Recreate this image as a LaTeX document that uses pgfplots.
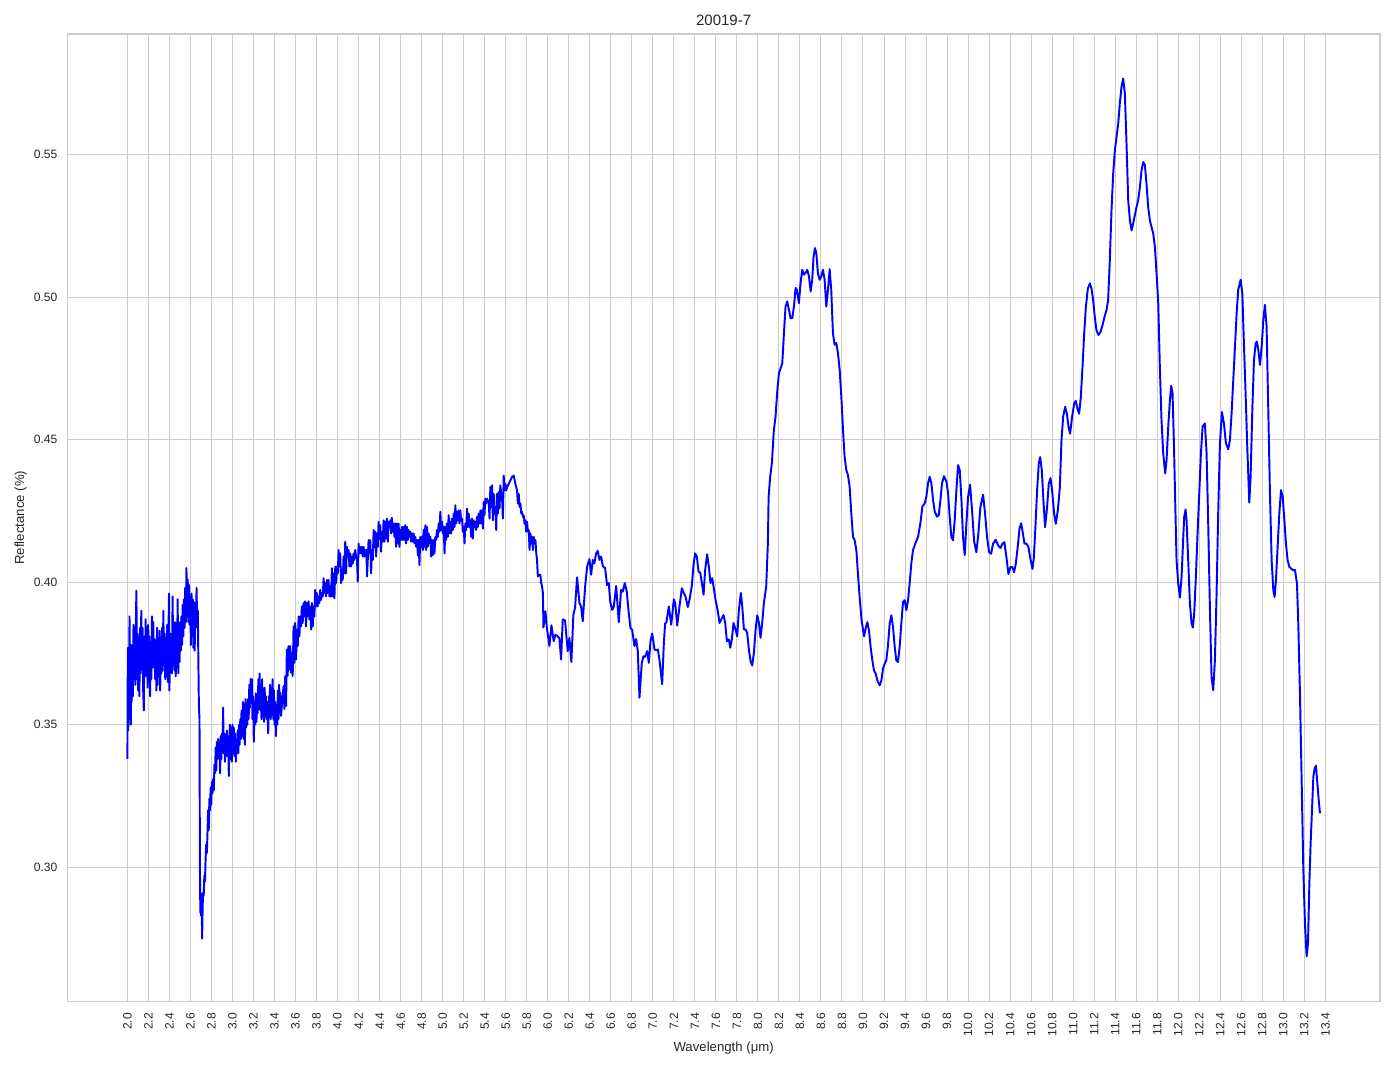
\documentclass[border=0pt]{standalone}
\usepackage{pgfplots}
\pgfplotsset{compat=1.18}
\usepackage{pgfplotstable}
\usepackage{fontspec}
\setmainfont{Liberation Sans}

\definecolor{gridc}{gray}{0.8}
\definecolor{txt}{gray}{0.15}

% spectrum 20019-7
\pgfplotstableread{
x y
2.000 0.338
2.004 0.377
2.008 0.348
2.012 0.372
2.016 0.352
2.020 0.388
2.024 0.356
2.028 0.375
2.032 0.350
2.036 0.378
2.040 0.358
2.046 0.372
2.052 0.360
2.058 0.385
2.064 0.366
2.070 0.380
2.076 0.364
2.082 0.390
2.086 0.397
2.090 0.366
2.096 0.382
2.102 0.362
2.108 0.378
2.114 0.360
2.120 0.384
2.126 0.368
2.132 0.390
2.138 0.370
2.144 0.384
2.150 0.362
2.156 0.355
2.162 0.381
2.168 0.367
2.174 0.387
2.180 0.368
2.186 0.382
2.192 0.363
2.198 0.385
2.204 0.365
2.210 0.381
2.216 0.360
2.222 0.379
2.228 0.366
2.234 0.388
2.240 0.370
2.246 0.386
2.252 0.372
2.258 0.380
2.264 0.366
2.270 0.378
2.276 0.362
2.282 0.384
2.288 0.364
2.294 0.380
2.300 0.367
2.306 0.383
2.312 0.362
2.318 0.378
2.324 0.368
2.330 0.384
2.336 0.369
2.342 0.390
2.348 0.371
2.354 0.382
2.360 0.366
2.366 0.380
2.372 0.368
2.378 0.385
2.384 0.365
2.390 0.380
2.396 0.396
2.400 0.362
2.406 0.382
2.412 0.372
2.418 0.380
2.424 0.368
2.430 0.395
2.436 0.372
2.442 0.382
2.448 0.369
2.454 0.386
2.460 0.367
2.466 0.384
2.472 0.370
2.478 0.394
2.484 0.368
2.490 0.382
2.496 0.372
2.502 0.386
2.508 0.376
2.514 0.388
2.520 0.378
2.526 0.392
2.532 0.381
2.538 0.394
2.544 0.384
2.550 0.398
2.556 0.386
2.562 0.405
2.568 0.388
2.574 0.401
2.580 0.386
2.586 0.399
2.592 0.385
2.598 0.395
2.604 0.378
2.610 0.396
2.616 0.381
2.622 0.394
2.628 0.377
2.634 0.393
2.640 0.376
2.646 0.389
2.652 0.384
2.658 0.398
2.664 0.385
2.670 0.390
2.676 0.370
2.680 0.357
2.686 0.352
2.690 0.300
2.694 0.284
2.698 0.291
2.702 0.283
2.706 0.290
2.711 0.275
2.716 0.286
2.720 0.291
2.726 0.290
2.732 0.297
2.738 0.295
2.744 0.303
2.750 0.308
2.756 0.305
2.762 0.312
2.768 0.320
2.774 0.313
2.780 0.324
2.786 0.320
2.792 0.328
2.798 0.322
2.804 0.330
2.810 0.326
2.816 0.331
2.822 0.327
2.828 0.336
2.834 0.333
2.840 0.342
2.846 0.334
2.852 0.344
2.858 0.338
2.864 0.345
2.870 0.341
2.876 0.344
2.882 0.333
2.888 0.346
2.894 0.338
2.900 0.347
2.906 0.341
2.911 0.356
2.916 0.340
2.922 0.347
2.928 0.337
2.934 0.345
2.940 0.339
2.946 0.348
2.952 0.341
2.958 0.346
2.965 0.332
2.970 0.345
2.976 0.350
2.982 0.338
2.988 0.349
2.994 0.337
3.000 0.350
3.006 0.340
3.012 0.349
3.018 0.339
3.024 0.347
3.032 0.337
3.038 0.345
3.044 0.341
3.050 0.348
3.056 0.340
3.062 0.350
3.068 0.343
3.074 0.352
3.080 0.345
3.086 0.355
3.092 0.346
3.100 0.358
3.106 0.345
3.112 0.352
3.118 0.343
3.124 0.359
3.130 0.349
3.136 0.357
3.142 0.350
3.148 0.359
3.154 0.352
3.160 0.364
3.166 0.356
3.172 0.366
3.178 0.358
3.184 0.366
3.190 0.352
3.196 0.360
3.203 0.344
3.210 0.358
3.216 0.350
3.222 0.361
3.228 0.351
3.234 0.360
3.240 0.354
3.246 0.366
3.252 0.356
3.258 0.368
3.264 0.355
3.270 0.364
3.276 0.352
3.282 0.366
3.288 0.354
3.294 0.362
3.300 0.351
3.306 0.363
3.312 0.354
3.318 0.360
3.324 0.352
3.330 0.358
3.340 0.347
3.346 0.360
3.352 0.354
3.358 0.364
3.364 0.352
3.370 0.363
3.376 0.355
3.382 0.366
3.388 0.352
3.394 0.362
3.400 0.350
3.406 0.358
3.413 0.346
3.420 0.357
3.426 0.350
3.432 0.362
3.438 0.352
3.444 0.364
3.450 0.356
3.454 0.3613
3.462 0.3531
3.486 0.3636
3.494 0.3555
3.502 0.3671
3.510 0.3566
3.517 0.3764
3.525 0.3671
3.533 0.3776
3.541 0.3694
3.549 0.3776
3.557 0.3683
3.565 0.3752
3.573 0.3671
3.581 0.3845
3.589 0.3717
3.597 0.3857
3.605 0.3729
3.613 0.3834
3.621 0.3776
3.629 0.3880
3.637 0.3810
3.644 0.3880
3.652 0.3845
3.660 0.3915
3.668 0.3857
3.676 0.3927
3.684 0.3880
3.692 0.3933
3.700 0.3845
3.708 0.3927
3.716 0.3880
3.724 0.3933
3.732 0.3869
3.740 0.3915
3.748 0.3834
3.756 0.3927
3.764 0.3845
3.771 0.3915
3.779 0.3880
3.787 0.3973
3.795 0.3915
3.803 0.3962
3.811 0.3915
3.819 0.3950
3.827 0.3927
3.835 0.3973
3.843 0.3938
3.851 0.3962
3.859 0.3950
3.867 0.4014
3.875 0.3962
3.883 0.3997
3.891 0.3950
3.898 0.4008
3.906 0.3962
3.914 0.4008
3.922 0.3950
3.930 0.3985
3.938 0.3950
3.946 0.4049
3.954 0.3950
3.962 0.4031
3.970 0.3944
3.978 0.4055
3.986 0.3997
3.994 0.4055
4.002 0.4031
4.010 0.4113
4.018 0.4055
4.025 0.4101
4.033 0.3997
4.041 0.4043
4.049 0.4008
4.057 0.4090
4.065 0.4031
4.073 0.4142
4.081 0.4031
4.089 0.4124
4.097 0.4090
4.105 0.4113
4.113 0.4055
4.121 0.4101
4.129 0.4055
4.137 0.4090
4.145 0.4066
4.152 0.4101
4.160 0.4078
4.168 0.4113
4.176 0.4090
4.184 0.4090
4.192 0.4002
4.200 0.4136
4.208 0.4101
4.216 0.4124
4.224 0.4101
4.232 0.4124
4.240 0.4090
4.248 0.4124
4.256 0.4090
4.263 0.4113
4.271 0.4090
4.273 0.4113
4.281 0.4020
4.295 0.4148
4.303 0.4101
4.311 0.4148
4.319 0.4031
4.327 0.4113
4.335 0.4078
4.343 0.4183
4.351 0.4124
4.359 0.4177
4.367 0.4090
4.375 0.4171
4.383 0.4124
4.390 0.4212
4.398 0.4153
4.406 0.4200
4.414 0.4107
4.422 0.4177
4.430 0.4142
4.438 0.4217
4.446 0.4142
4.454 0.4212
4.462 0.4153
4.470 0.4223
4.478 0.4142
4.486 0.4212
4.494 0.4194
4.502 0.4217
4.510 0.4171
4.517 0.4226
4.525 0.4177
4.533 0.4206
4.541 0.4159
4.549 0.4206
4.557 0.4124
4.565 0.4206
4.573 0.4136
4.581 0.4206
4.589 0.4124
4.597 0.4183
4.605 0.4148
4.613 0.4194
4.621 0.4148
4.629 0.4194
4.637 0.4148
4.644 0.4200
4.652 0.4136
4.660 0.4194
4.668 0.4148
4.676 0.4183
4.684 0.4159
4.692 0.4177
4.700 0.4142
4.708 0.4171
4.716 0.4142
4.724 0.4171
4.732 0.4136
4.740 0.4159
4.748 0.4124
4.756 0.4148
4.764 0.4095
4.771 0.4148
4.779 0.4060
4.787 0.4159
4.795 0.4124
4.803 0.4159
4.811 0.4113
4.819 0.4183
4.827 0.4124
4.835 0.4200
4.843 0.4113
4.851 0.4194
4.859 0.4124
4.867 0.4171
4.875 0.4136
4.883 0.4159
4.891 0.4090
4.898 0.4148
4.906 0.4095
4.914 0.4148
4.922 0.4101
4.930 0.4159
4.938 0.4148
4.946 0.4183
4.954 0.4159
4.962 0.4206
4.970 0.4177
4.978 0.4247
4.986 0.4183
4.994 0.4212
5.002 0.4171
5.010 0.4194
5.018 0.4101
5.025 0.4194
5.033 0.4148
5.041 0.4206
5.049 0.4159
5.057 0.4235
5.065 0.4171
5.073 0.4212
5.081 0.4171
5.089 0.4223
5.097 0.4183
5.105 0.4241
5.113 0.4194
5.121 0.4270
5.129 0.4206
5.137 0.4247
5.145 0.4217
5.152 0.4252
5.160 0.4206
5.168 0.4252
5.176 0.4217
5.184 0.4223
5.192 0.4177
5.200 0.4194
5.208 0.4136
5.216 0.4206
5.224 0.4183
5.232 0.4258
5.240 0.4194
5.248 0.4241
5.256 0.4194
5.263 0.4217
5.271 0.4159
5.279 0.4223
5.287 0.4153
5.295 0.4217
5.303 0.4194
5.311 0.4212
5.319 0.4183
5.327 0.4229
5.335 0.4194
5.343 0.4241
5.351 0.4206
5.359 0.4252
5.367 0.4206
5.375 0.4252
5.383 0.4188
5.390 0.4281
5.398 0.4235
5.406 0.4293
5.414 0.4276
5.422 0.4293
5.430 0.4281
5.438 0.4287
5.446 0.4223
5.454 0.4334
5.462 0.4264
5.470 0.4340
5.478 0.4217
5.486 0.4310
5.494 0.4241
5.502 0.4264
5.510 0.4183
5.517 0.4310
5.525 0.4241
5.533 0.4316
5.541 0.4258
5.549 0.4340
5.557 0.4310
5.565 0.4299
5.573 0.4223
5.581 0.4374
5.589 0.4322
5.597 0.4345
5.605 0.4322
5.613 0.4334
5.629 0.4345
5.644 0.4357
5.660 0.4369
5.676 0.4374
5.692 0.4345
5.708 0.4322
5.716 0.4276
5.724 0.4310
5.732 0.4264
5.740 0.4276
5.748 0.4241
5.756 0.4247
5.764 0.4229
5.771 0.4235
5.779 0.4206
5.787 0.4217
5.795 0.4177
5.803 0.4212
5.811 0.4177
5.819 0.4183
5.827 0.4113
5.835 0.4171
5.843 0.4136
5.851 0.4159
5.859 0.4113
5.867 0.4159
5.875 0.4136
5.883 0.4148
5.891 0.4101
5.898 0.4078
5.906 0.4020
5.914 0.4026
5.930 0.4026
5.938 0.3997
5.946 0.3985
5.954 0.3962
5.959 0.3841
5.978 0.3898
5.990 0.3845
6.016 0.3776
6.035 0.3849
6.057 0.3793
6.073 0.3816
6.095 0.3810
6.111 0.3804
6.127 0.3729
6.143 0.3869
6.165 0.3866
6.190 0.3758
6.206 0.3804
6.225 0.3720
6.244 0.3886
6.260 0.3910
6.279 0.4017
6.302 0.3927
6.317 0.3915
6.333 0.3863
6.356 0.3985
6.375 0.4055
6.397 0.4081
6.413 0.4026
6.429 0.4078
6.444 0.4066
6.460 0.4101
6.476 0.4110
6.492 0.4078
6.508 0.4090
6.524 0.4057
6.546 0.4049
6.565 0.3990
6.581 0.3997
6.594 0.3933
6.613 0.3903
6.629 0.3915
6.651 0.3987
6.676 0.3860
6.698 0.3973
6.714 0.3967
6.733 0.3997
6.752 0.3967
6.771 0.3892
6.787 0.3840
6.803 0.3834
6.825 0.3776
6.841 0.3801
6.857 0.3758
6.873 0.3595
6.895 0.3717
6.911 0.3740
6.927 0.3738
6.946 0.3758
6.962 0.3717
6.978 0.3793
6.994 0.3820
7.016 0.3764
7.032 0.3761
7.048 0.3764
7.063 0.3729
7.089 0.3642
7.105 0.3787
7.117 0.3855
7.130 0.3860
7.152 0.3915
7.175 0.3851
7.200 0.3940
7.213 0.3926
7.232 0.3848
7.254 0.3915
7.276 0.3979
7.295 0.3962
7.311 0.3950
7.333 0.3913
7.349 0.3938
7.371 0.3987
7.387 0.4060
7.403 0.4101
7.419 0.4090
7.435 0.4037
7.451 0.4034
7.467 0.3997
7.483 0.3956
7.498 0.4043
7.517 0.4098
7.533 0.4055
7.549 0.3997
7.565 0.4014
7.578 0.3985
7.597 0.3938
7.619 0.3898
7.635 0.3857
7.651 0.3869
7.673 0.3885
7.689 0.3857
7.705 0.3793
7.724 0.3799
7.737 0.3770
7.752 0.3799
7.768 0.3857
7.787 0.3834
7.803 0.3810
7.819 0.3903
7.838 0.3962
7.851 0.3915
7.867 0.3834
7.883 0.3834
7.898 0.3822
7.914 0.3764
7.930 0.3723
7.946 0.3708
7.962 0.3752
7.978 0.3834
7.994 0.3884
8.010 0.3857
8.025 0.3805
8.041 0.3857
8.057 0.3927
8.079 0.3985
8.095 0.4137
8.102 0.4300
8.117 0.4370
8.133 0.4417
8.152 0.4534
8.168 0.4581
8.184 0.4669
8.200 0.4733
8.216 0.4750
8.232 0.4768
8.248 0.4874
8.263 0.4967
8.279 0.4985
8.295 0.4956
8.311 0.4926
8.327 0.4926
8.343 0.4967
8.359 0.5032
8.371 0.5026
8.390 0.4979
8.406 0.5049
8.422 0.5096
8.438 0.5079
8.454 0.5085
8.470 0.5096
8.486 0.5073
8.502 0.5020
8.517 0.5061
8.530 0.5143
8.543 0.5172
8.556 0.5155
8.571 0.5084
8.587 0.5061
8.603 0.5073
8.619 0.5096
8.635 0.5061
8.651 0.4967
8.667 0.5026
8.683 0.5098
8.698 0.5026
8.714 0.4874
8.730 0.4833
8.746 0.4839
8.762 0.4804
8.778 0.4745
8.794 0.4651
8.810 0.4534
8.825 0.4440
8.841 0.4394
8.857 0.4376
8.873 0.4335
8.889 0.4241
8.905 0.4159
8.921 0.4147
8.937 0.4112
8.952 0.4030
8.968 0.3948
8.987 0.3866
9.010 0.3810
9.025 0.3837
9.041 0.3860
9.057 0.3831
9.073 0.3772
9.089 0.3726
9.105 0.3690
9.121 0.3679
9.137 0.3655
9.159 0.3638
9.175 0.3655
9.190 0.3696
9.206 0.3714
9.222 0.3726
9.238 0.3778
9.254 0.3855
9.270 0.3884
9.286 0.3843
9.302 0.3773
9.317 0.3726
9.333 0.3720
9.349 0.3773
9.365 0.3855
9.381 0.3931
9.397 0.3937
9.413 0.3902
9.429 0.3937
9.444 0.3995
9.460 0.4066
9.476 0.4112
9.498 0.4136
9.524 0.4159
9.546 0.4206
9.565 0.4265
9.587 0.4276
9.603 0.4300
9.619 0.4347
9.635 0.4370
9.651 0.4347
9.667 0.4288
9.683 0.4247
9.705 0.4230
9.721 0.4235
9.737 0.4288
9.752 0.4347
9.771 0.4372
9.794 0.4353
9.810 0.4312
9.825 0.4230
9.841 0.4159
9.857 0.4147
9.873 0.4218
9.889 0.4323
9.905 0.4411
9.921 0.4393
9.937 0.4288
9.952 0.4159
9.968 0.4095
9.984 0.4205
10.000 0.4299
10.019 0.4342
10.038 0.4252
10.057 0.4146
10.079 0.4105
10.098 0.4170
10.117 0.4263
10.143 0.4307
10.162 0.4240
10.181 0.4158
10.200 0.4105
10.219 0.4100
10.238 0.4135
10.263 0.4149
10.286 0.4129
10.308 0.4120
10.327 0.4135
10.346 0.4140
10.365 0.4088
10.384 0.4029
10.403 0.4053
10.422 0.4053
10.438 0.4035
10.454 0.4064
10.476 0.4135
10.489 0.4187
10.505 0.4207
10.517 0.4182
10.537 0.4135
10.556 0.4135
10.575 0.4123
10.590 0.4088
10.613 0.4047
10.625 0.4082
10.641 0.4193
10.657 0.4322
10.673 0.4416
10.686 0.4439
10.702 0.4392
10.717 0.4287
10.733 0.4193
10.752 0.4263
10.768 0.4345
10.784 0.4365
10.800 0.4322
10.819 0.4240
10.835 0.4205
10.854 0.4252
10.873 0.4330
10.889 0.4498
10.905 0.4581
10.924 0.4615
10.940 0.4592
10.956 0.4545
10.971 0.4521
10.990 0.4580
11.010 0.4627
11.025 0.4636
11.041 0.4609
11.057 0.4591
11.073 0.4649
11.089 0.4754
11.105 0.4871
11.121 0.4965
11.140 0.5030
11.159 0.5048
11.175 0.5030
11.190 0.4989
11.206 0.4930
11.222 0.4884
11.241 0.4867
11.260 0.4878
11.279 0.4901
11.298 0.4930
11.317 0.4954
11.333 0.4989
11.349 0.5129
11.365 0.5305
11.381 0.5433
11.397 0.5515
11.413 0.5562
11.429 0.5609
11.444 0.5679
11.460 0.5737
11.476 0.5767
11.492 0.5714
11.508 0.5539
11.524 0.5340
11.540 0.5270
11.556 0.5234
11.571 0.5258
11.587 0.5287
11.603 0.5316
11.619 0.5340
11.635 0.5386
11.651 0.5445
11.667 0.5474
11.683 0.5463
11.698 0.5398
11.714 0.5316
11.730 0.5270
11.746 0.5246
11.762 0.5223
11.778 0.5176
11.794 0.5082
11.810 0.4979
11.825 0.4756
11.841 0.4569
11.857 0.4452
11.876 0.4382
11.889 0.4429
11.905 0.4546
11.921 0.4639
11.933 0.4689
11.946 0.4663
11.959 0.4487
11.971 0.4288
11.984 0.4077
12.000 0.3995
12.016 0.3946
12.032 0.4019
12.048 0.4159
12.057 0.4229
12.070 0.4255
12.079 0.4218
12.095 0.4077
12.111 0.3925
12.127 0.3855
12.140 0.3841
12.152 0.3890
12.168 0.4019
12.184 0.4171
12.200 0.4311
12.216 0.4452
12.232 0.4546
12.254 0.4557
12.270 0.4452
12.286 0.4194
12.302 0.3901
12.317 0.3667
12.333 0.3621
12.349 0.3726
12.365 0.3959
12.381 0.4253
12.397 0.4487
12.416 0.4597
12.435 0.4557
12.454 0.4487
12.476 0.4466
12.492 0.4499
12.508 0.4593
12.524 0.4710
12.540 0.4827
12.556 0.4944
12.571 0.5026
12.594 0.5061
12.610 0.5014
12.625 0.4838
12.641 0.4663
12.657 0.4475
12.676 0.4279
12.689 0.4370
12.705 0.4604
12.721 0.4780
12.737 0.4838
12.749 0.4844
12.762 0.4815
12.778 0.4762
12.794 0.4827
12.810 0.4920
12.825 0.4973
12.841 0.4897
12.857 0.4604
12.873 0.4311
12.889 0.4077
12.905 0.3972
12.917 0.3948
12.930 0.4007
12.946 0.4124
12.962 0.4241
12.978 0.4323
12.994 0.4300
13.010 0.4218
13.025 0.4136
13.041 0.4077
13.057 0.4054
13.073 0.4048
13.095 0.4042
13.111 0.4043
13.130 0.3996
13.143 0.3850
13.159 0.3600
13.175 0.3295
13.190 0.3002
13.206 0.2803
13.222 0.2687
13.235 0.2733
13.248 0.2944
13.260 0.3084
13.273 0.3201
13.286 0.3318
13.298 0.3347
13.311 0.3356
13.324 0.3295
13.337 0.3236
13.349 0.3189
}\spectrum

\begin{document}
\begin{tikzpicture}
\path[use as bounding box] (-48.46pt,-48.6pt) rectangle (955.2pt,721.1pt);
\begin{axis}[
    at={(0,0)}, anchor=south west,
    scale only axis,
    width=945.1pt, height=696.6pt,
    xmin=1.428, xmax=13.92,
    ymin=0.2529, ymax=0.5923,
    xtick={2.0,2.2,2.4,2.6,2.8,3.0,3.2,3.4,3.6,3.8,4.0,4.2,4.4,4.6,4.8,5.0,5.2,5.4,5.6,5.8,6.0,6.2,6.4,6.6,6.8,7.0,7.2,7.4,7.6,7.8,8.0,8.2,8.4,8.6,8.8,9.0,9.2,9.4,9.6,9.8,10.0,10.2,10.4,10.6,10.8,11.0,11.2,11.4,11.6,11.8,12.0,12.2,12.4,12.6,12.8,13.0,13.2,13.4},
    ytick={0.30,0.35,0.40,0.45,0.50,0.55},
    xticklabel style={/pgf/number format/fixed, /pgf/number format/fixed zerofill,
        /pgf/number format/precision=1, /pgf/number format/assume math mode=true,
        rotate=90, anchor=east, inner sep=0pt, xshift=-8pt,
        font=\fontsize{8.7}{10}\selectfont, text=txt},
    yticklabel style={/pgf/number format/fixed, /pgf/number format/fixed zerofill,
        /pgf/number format/precision=2, /pgf/number format/assume math mode=true,
        anchor=east, inner sep=0pt, xshift=-7pt,
        font=\fontsize{8.7}{10}\selectfont, text=txt},
    major tick length=0pt,
    grid=major,
    major grid style={draw=gridc, line width=0.7pt},
    axis line style={draw=gridc, line width=0.9pt},
    title={20019-7},
    title style={at={(axis description cs:0.5,1)}, anchor=center, yshift=4pt, inner sep=0pt, font=\fontsize{10.8}{12}\selectfont, text=txt},
    xlabel={Wavelength (μm)},
    xlabel style={at={(axis description cs:0.5,0)}, anchor=center, yshift=-33.5pt, inner sep=0pt, font=\fontsize{9.5}{11}\selectfont, text=txt},
    ylabel={Reflectance (\%)},
    ylabel style={at={(axis description cs:0,0.5)}, anchor=center, yshift=33.5pt, inner sep=0pt, font=\fontsize{9.5}{11}\selectfont, text=txt},
]
\addplot[blue, line width=1.4pt, line join=round] table[x=x, y=y] {\spectrum};
\end{axis}
\end{tikzpicture}
\end{document}
